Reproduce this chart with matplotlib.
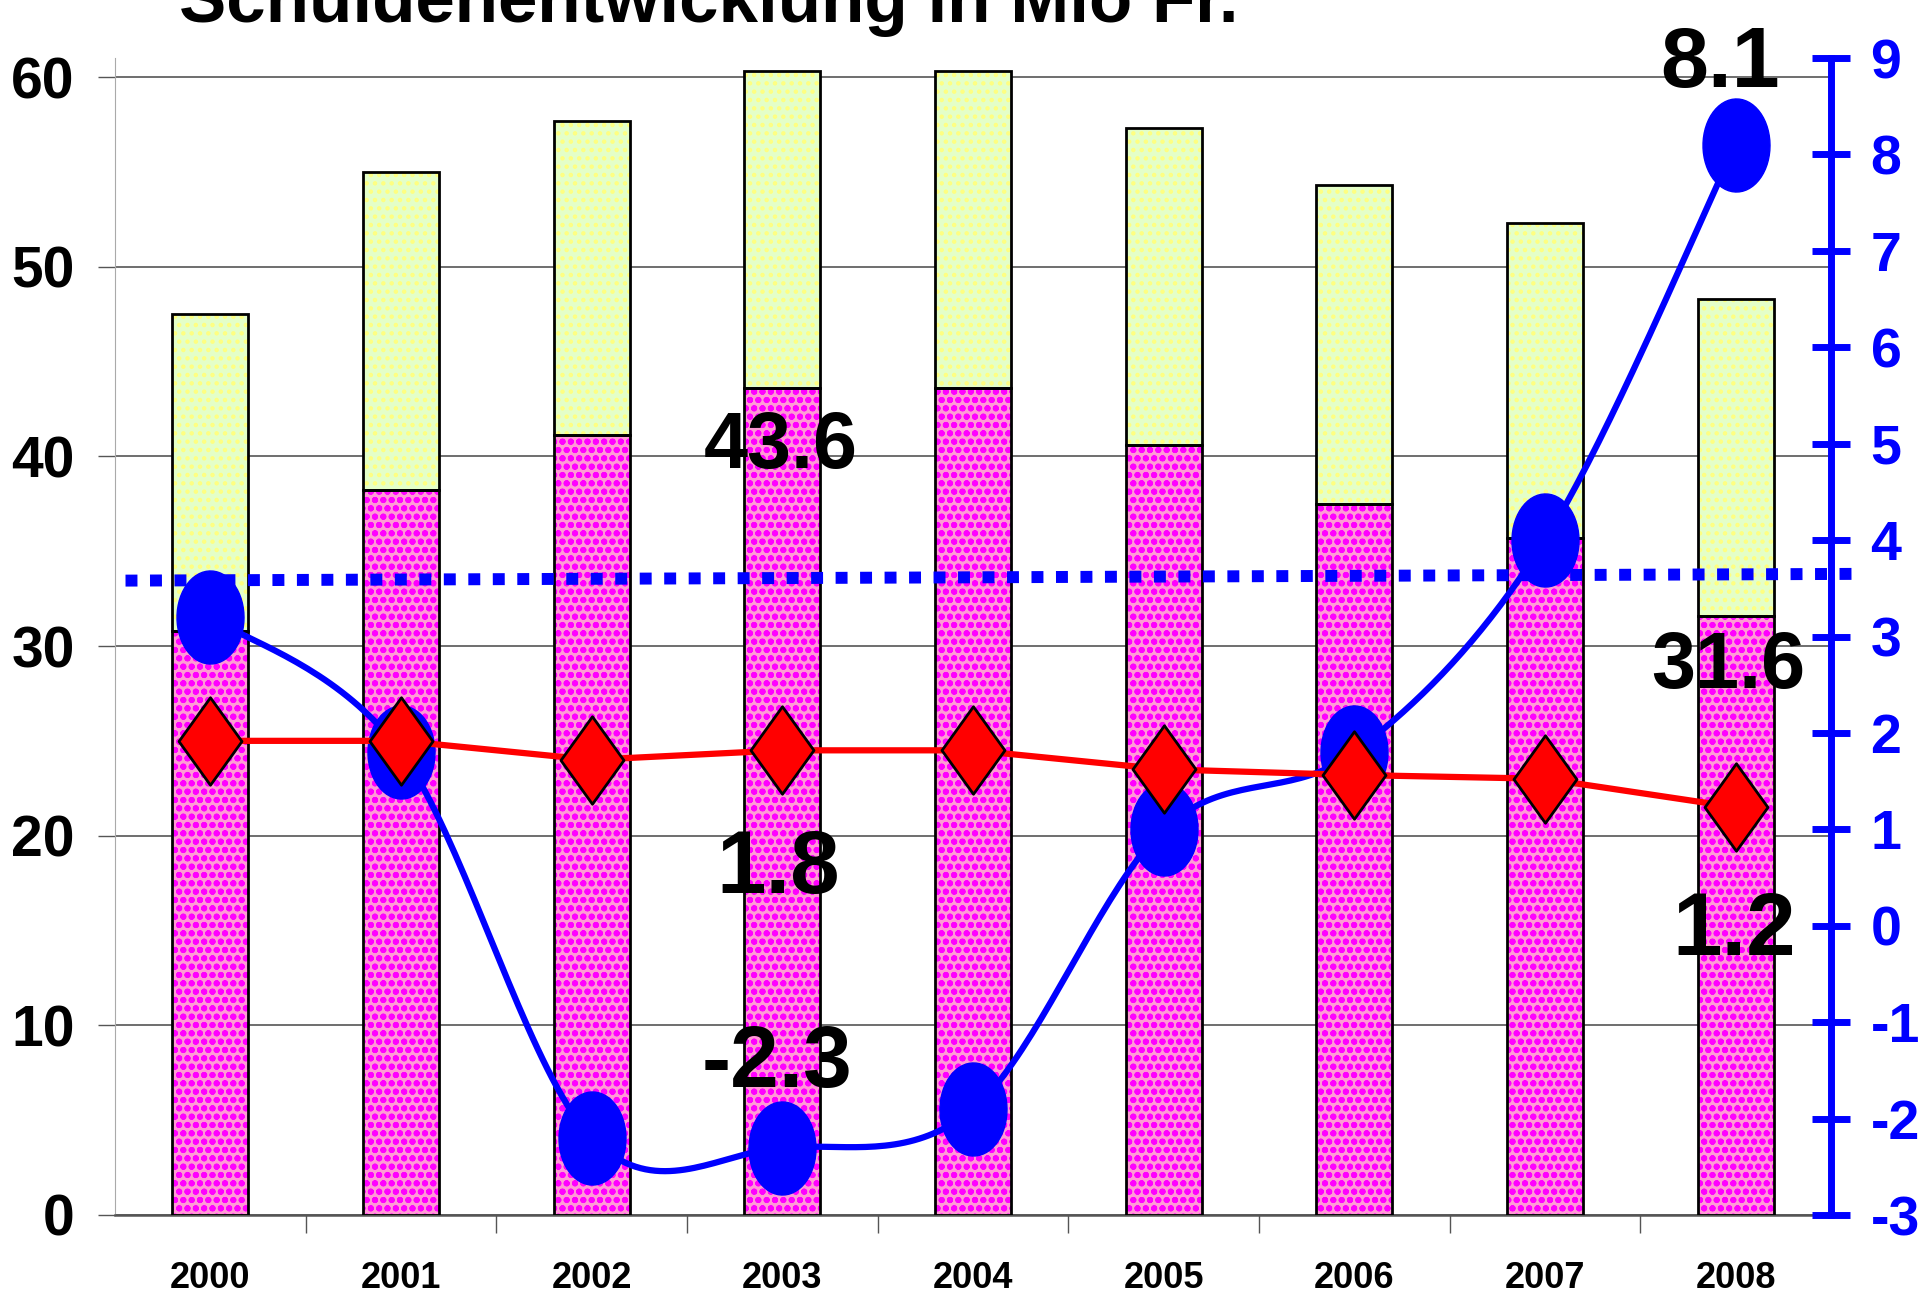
import numpy as np
import matplotlib
matplotlib.use('Agg')
import matplotlib.pyplot as plt
from matplotlib.path import Path

# --- Daten ---
years = ['2000', '2001', '2002', '2003', '2004', '2005', '2006', '2007', '2008']
schulden_basis = [30.8, 38.2, 41.1, 43.6, 43.6, 40.6, 37.5, 35.7, 31.6]
schulden_total = [47.5, 55.0, 57.7, 60.3, 60.3, 57.3, 54.3, 52.3, 48.3]
rote_linie = [25.0, 25.0, 24.0, 24.5, 24.5, 23.5, 23.2, 23.0, 21.5]
blaue_linie = [3.2, 1.8, -2.2, -2.3, -1.9, 1.0, 1.8, 4.0, 8.1]
mittel_linie = [3.58, 3.65]
left_ticks = [0, 10, 20, 30, 40, 50, 60]
right_ticks = [-3, -2, -1, 0, 1, 2, 3, 4, 5, 6, 7, 8, 9]

NARROW = ['Liberation Sans Narrow', 'Liberation Sans']
BOLD = ['Liberation Sans', 'DejaVu Sans']
BLUE = '#0000FF'


def smooth(xs, ys, n=40):
    # Glaettung wie bei Excel (Catmull-Rom / Bezier)
    pts = np.column_stack([xs, ys]).astype(float)
    ext = np.vstack([pts[0], pts, pts[-1]])
    out = []
    t = np.linspace(0, 1, n)[:, None]
    for i in range(len(pts) - 1):
        p0, p1, p2, p3 = ext[i], ext[i + 1], ext[i + 2], ext[i + 3]
        c1 = p1 + (p2 - p0) / 6
        c2 = p2 - (p3 - p1) / 6
        seg = (1 - t) ** 3 * p1 + 3 * (1 - t) ** 2 * t * c1 + 3 * (1 - t) * t ** 2 * c2 + t ** 3 * p2
        out.append(seg)
    return np.vstack(out)


theta = np.linspace(0, 2 * np.pi, 60)
ellipse = Path(np.column_stack([0.72 * np.cos(theta), np.sin(theta)]), closed=True)
diamond = Path([(0, 1), (0.72, 0), (0, -1), (-0.72, 0), (0, 1)], closed=True)

plt.rcParams['hatch.linewidth'] = 2.0

fig = plt.figure(figsize=(19.3, 12.96), dpi=100)
ax = fig.add_axes([0.0596, 0.0625, 0.9487 - 0.0596, 0.9552 - 0.0625])
x = np.arange(len(years))
w = 0.40

# Balken
oben = np.array(schulden_total) - np.array(schulden_basis)
ax.bar(x, schulden_basis, w, color='#FF9AD5', edgecolor='#FF00FF', hatch='oo', lw=0, zorder=2)
ax.bar(x, oben, w, bottom=schulden_basis, color='#E4FFC8', edgecolor='#FFFF80', hatch='..', lw=0, zorder=2)
ax.bar(x, schulden_basis, w, fill=False, edgecolor='black', lw=2, zorder=3)
ax.bar(x, oben, w, bottom=schulden_basis, fill=False, edgecolor='black', lw=2, zorder=3)

ax.set_xlim(-0.5, 8.5)
ax.set_ylim(0, 61)
ax.set_yticks(left_ticks)
ax.set_yticklabels([str(v) for v in left_ticks], family=NARROW, fontweight='bold', fontsize=41)
ax.tick_params(axis='y', direction='out', length=12, width=1, color='#555555', pad=17)
ax.grid(axis='y', color='#555555', lw=1.2)
ax.set_axisbelow(True)
ax.set_xticks(x)
ax.set_xticklabels(years, family=NARROW, fontweight='bold', fontsize=26)
ax.set_xticks(x[:-1] + 0.5, minor=True)
ax.tick_params(axis='x', which='major', length=0, pad=33)
ax.tick_params(axis='x', which='minor', direction='out', length=13, width=1, color='#555555')
for s in ['top', 'right']:
    ax.spines[s].set_visible(False)
ax.spines['left'].set_color('#AAAAAA')
ax.spines['bottom'].set_color('#555555')
ax.spines['bottom'].set_linewidth(1.8)

# rechte Achse
ax2 = ax.twinx()
ax2.set_ylim(-3, 9)
ax2.set_yticks(right_ticks)
ax2.set_yticklabels([str(v) for v in right_ticks], family=BOLD, fontweight='bold', fontsize=40, color=BLUE)
ax2.tick_params(axis='y', direction='inout', length=27, width=5, color=BLUE, pad=15)
for s in ['top', 'left', 'bottom']:
    ax2.spines[s].set_visible(False)
ax2.spines['right'].set_color(BLUE)
ax2.spines['right'].set_linewidth(5)

ax2.plot([-0.445, 8.65], mittel_linie, color=BLUE, lw=8.6, ls=(0, (1, 1.05)),
         dash_capstyle='butt', clip_on=False, zorder=2)
curve = smooth(x, blaue_linie)
ax2.plot(curve[:, 0], curve[:, 1], color=BLUE, lw=4.5, zorder=3, clip_on=False)
ax2.plot(x, blaue_linie, ls='none', marker=ellipse, ms=67, color=BLUE, zorder=4, clip_on=False)

# rote Linie (linke Skala) oben drauf
ax3 = ax.twinx()
ax3.set_ylim(ax.get_ylim())
ax3.axis('off')
ax3.plot(x, rote_linie, color='#FF0000', lw=4.5, zorder=3)
ax3.plot(x, rote_linie, ls='none', marker=diamond, ms=63, mfc='#FF0000', mec='black', mew=2, zorder=4)

# Beschriftungen
lab = dict(fontweight='bold', ha='center', va='baseline', zorder=6, clip_on=False)
ax3.text(2.99, 39.4, '43.6', family=BOLD, fontsize=57, **lab)
ax3.text(7.96, 27.8, '31.6', family=BOLD, fontsize=57, **lab)
ax3.text(7.92, 59.5, '8.1', family=NARROW, fontsize=62, **lab)
ax3.text(2.98, 17.0, '1.8', family=NARROW, fontsize=64, **lab)
ax3.text(2.97, 6.75, '-2.3', family=NARROW, fontsize=63, **lab)
ax3.text(7.99, 13.7, '1.2', family=NARROW, fontsize=64, **lab)

fig.text(0.0927, 1 - 22 / 1296, 'Schuldenentwicklung in Mio Fr.', family=BOLD, fontweight='bold',
         fontsize=51, ha='left', va='baseline')

fig.savefig('out.png', dpi=100)
